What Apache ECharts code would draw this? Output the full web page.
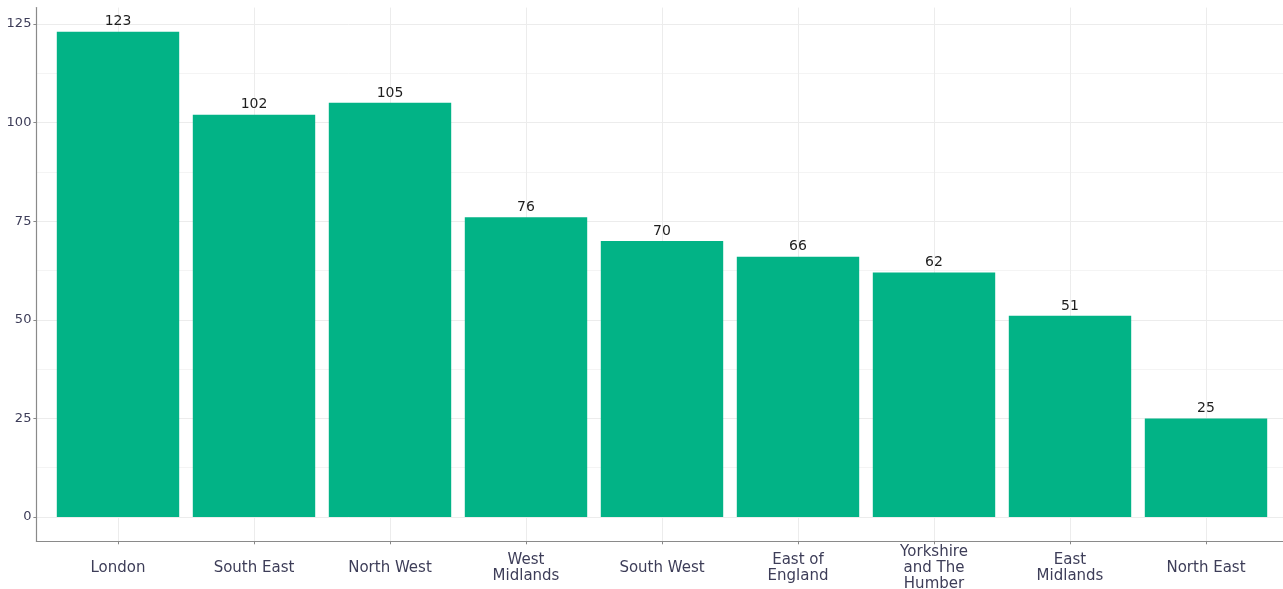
<!DOCTYPE html>
<html>
<head>
<meta charset="utf-8">
<script src="https://cdn.jsdelivr.net/npm/echarts@6/dist/echarts.min.js"></script>
<style>
html,body{margin:0;padding:0;background:#fff;}
#chart{width:1283px;height:589px;}
</style>
</head>
<body>
<div id="chart"></div>
<script>
const categories = ['London', 'South East', 'North West', 'West\nMidlands', 'South West', 'East of\nEngland', 'Yorkshire\nand The\nHumber', 'East\nMidlands', 'North East'];
const values = [123, 102, 105, 76, 70, 66, 62, 51, 25];
const yTicks = [0, 25, 50, 75, 100, 125];

const yMin = -6.15, yMax = 129.15;
const barColor = '#02B386';
const textColor = '#3d3d58';
const gridColor = '#ececec';
const font = 'DejaVu Sans';

const g = (o) => Object.assign({containLabel: false, outerBoundsMode: 'none'}, o);

const chart = echarts.init(document.getElementById('chart'), null, {renderer: 'canvas'});
chart.setOption({
  animation: false,
  backgroundColor: '#ffffff',
  grid: [
    g({left: 50, width: 1224, top: 7.6, bottom: 47.7}),
    g({left: 36.4, width: 1251, top: 24, bottom: 72}),
    g({left: 36.4, width: 1251, top: 7.6, bottom: 47.7}),
    g({left: 118, width: 1088, top: 7.6, bottom: 47.7})
  ],
  xAxis: [
    {
      type: 'category', gridIndex: 0, data: categories,
      axisLine: {show: false, onZero: false},
      axisTick: {show: true, alignWithLabel: true, length: 3, lineStyle: {color: '#888'}},
      splitLine: {show: false},
      axisLabel: {
        color: textColor, fontFamily: font, fontSize: 15, margin: 27,
        verticalAlign: 'middle', lineHeight: 16, align: 'center', interval: 0
      }
    },
    {type: 'value', gridIndex: 1, min: 0, max: 1, show: false},
    {
      type: 'value', gridIndex: 2, min: 0, max: 1,
      axisLine: {show: true, onZero: false, lineStyle: {color: '#8a8a8a', width: 1.2}},
      axisTick: {show: false}, axisLabel: {show: false}, splitLine: {show: false}
    },
    {
      type: 'category', gridIndex: 3, data: categories, boundaryGap: false,
      axisLine: {show: false, onZero: false}, axisTick: {show: false}, axisLabel: {show: false},
      splitLine: {show: true, interval: 0, lineStyle: {color: gridColor, width: 1}}
    }
  ],
  yAxis: [
    {type: 'value', gridIndex: 0, min: yMin, max: yMax, show: false, splitLine: {show: false}},
    {
      type: 'value', gridIndex: 1, min: yTicks[0], max: yTicks[yTicks.length - 1], interval: 25,
      axisLine: {show: false},
      axisTick: {show: true, length: 3, lineStyle: {color: '#888'}},
      axisLabel: {color: textColor, fontFamily: font, fontSize: 13, margin: 5},
      splitLine: {show: true, lineStyle: {color: gridColor, width: 1}},
      minorTick: {show: false, splitNumber: 2},
      minorSplitLine: {show: true, lineStyle: {color: '#f4f4f4', width: 1}}
    },
    {
      type: 'value', gridIndex: 2, min: 0, max: 1,
      axisLine: {show: true, onZero: false, lineStyle: {color: '#8a8a8a', width: 1.2}},
      axisTick: {show: false}, axisLabel: {show: false}, splitLine: {show: false}
    },
    {type: 'value', gridIndex: 3, min: 0, max: 1, show: false, splitLine: {show: false}}
  ],
  series: [
    {
      type: 'bar', xAxisIndex: 0, yAxisIndex: 0, data: values,
      barCategoryGap: '10%',
      itemStyle: {color: barColor},
      label: {show: true, position: 'top', distance: 3, color: '#1e1e1e', fontFamily: font, fontSize: 14}
    }
  ]
});
</script>
</body>
</html>
